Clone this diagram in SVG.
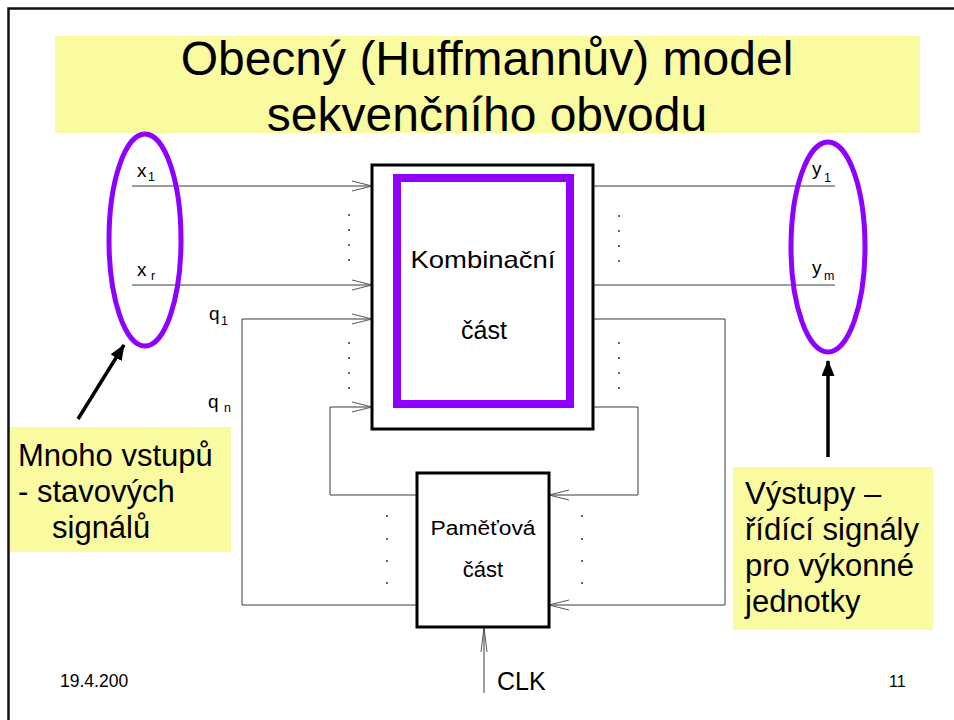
<svg xmlns="http://www.w3.org/2000/svg" width="954" height="720" viewBox="0 0 954 720">
<style>
text{font-family:"Liberation Sans",Arial,sans-serif;fill:#000}
.w{stroke:#3a3a3a;stroke-width:1;fill:none}
.box{fill:#fff;stroke:#000;stroke-width:3}
.yel{fill:#FAFAA0}
.ell{fill:none;stroke:#8F00FF;stroke-width:5}
.lbl{font-size:19px}
.sub{font-size:12.5px}
.dot{fill:#333}
.call{font-size:31px}
.big{stroke:#000;stroke-width:3.5;fill:none}
</style>
<defs>
<marker id="oa" markerUnits="userSpaceOnUse" markerWidth="24" markerHeight="14" refX="21" refY="6" orient="auto">
<path d="M1,1 L21,6 L1,11" fill="none" stroke="#555" stroke-width="1"/>
</marker>
<marker id="clk" markerUnits="userSpaceOnUse" markerWidth="28" markerHeight="10" refX="26" refY="4" orient="auto">
<path d="M1,1 L26,4 L1,7" fill="none" stroke="#555" stroke-width="1"/>
</marker>
<marker id="fa" markerUnits="userSpaceOnUse" markerWidth="18" markerHeight="14" refX="15" refY="6.5" orient="auto">
<path d="M0,0 L16,6.5 L0,13 z" fill="#000"/>
</marker>
<clipPath id="dc"><rect x="0" y="660" width="131" height="40"/></clipPath>
</defs>
<rect width="954" height="720" fill="#fff"/>
<path d="M8.5,720 V8.5 H954" fill="none" stroke="#111" stroke-width="2.5"/>

<g id="title">
<rect class="yel" x="55" y="36" width="865" height="97"/>
<text x="487" y="75" font-size="48" text-anchor="middle">Obecný (Huffmannův) model</text>
<text x="487" y="131" font-size="48" text-anchor="middle">sekvenčního obvodu</text>
</g>

<g id="connectors">
<path class="w" d="M132,186 H372" marker-end="url(#oa)"/>
<path class="w" d="M132,285 H372" marker-end="url(#oa)"/>
<path class="w" d="M417,605 H242 V319 H372" marker-end="url(#oa)"/>
<path class="w" d="M417,495 H330 V407 H372" marker-end="url(#oa)"/>
<path class="w" d="M593,186 H835"/>
<path class="w" d="M593,285 H835"/>
<path class="w" d="M593,319 H725 V605 H549" marker-end="url(#oa)"/>
<path class="w" d="M593,407 H638 V495 H549" marker-end="url(#oa)"/>
<path class="w" d="M484,693 V627" marker-end="url(#clk)"/>
<path class="big" d="M78,419 L124,345" marker-end="url(#fa)"/>
<path class="big" d="M828,457 V361" marker-end="url(#fa)"/>
</g>

<g id="dots">
<circle class="dot" cx="349" cy="215" r="1"/><circle class="dot" cx="349" cy="230" r="1"/><circle class="dot" cx="349" cy="245" r="1"/><circle class="dot" cx="349" cy="260" r="1"/>
<circle class="dot" cx="349" cy="343" r="1"/><circle class="dot" cx="349" cy="358" r="1"/><circle class="dot" cx="349" cy="373" r="1"/><circle class="dot" cx="349" cy="388" r="1"/>
<circle class="dot" cx="619" cy="216" r="1"/><circle class="dot" cx="619" cy="231" r="1"/><circle class="dot" cx="619" cy="246" r="1"/><circle class="dot" cx="619" cy="261" r="1"/>
<circle class="dot" cx="619" cy="343" r="1"/><circle class="dot" cx="619" cy="358" r="1"/><circle class="dot" cx="619" cy="373" r="1"/><circle class="dot" cx="619" cy="388" r="1"/>
<circle class="dot" cx="387" cy="516" r="1"/><circle class="dot" cx="387" cy="539" r="1"/><circle class="dot" cx="387" cy="561" r="1"/><circle class="dot" cx="387" cy="583" r="1"/>
<circle class="dot" cx="582" cy="516" r="1"/><circle class="dot" cx="582" cy="539" r="1"/><circle class="dot" cx="582" cy="561" r="1"/><circle class="dot" cx="582" cy="583" r="1"/>
</g>

<g id="comb">
<rect class="box" x="372" y="165" width="221" height="264"/>
<rect x="397" y="178" width="173" height="226" fill="none" stroke="#8F00FF" stroke-width="8"/>
<text x="483" y="268" font-size="24" text-anchor="middle" textLength="145" lengthAdjust="spacingAndGlyphs">Kombinační</text>
<text x="484" y="339" font-size="25" text-anchor="middle">část</text>
</g>

<g id="mem">
<rect class="box" x="417" y="473" width="132" height="154"/>
<text x="483" y="535" font-size="20" text-anchor="middle" textLength="105" lengthAdjust="spacingAndGlyphs">Paměťová</text>
<text x="483" y="577" font-size="22" text-anchor="middle">část</text>
</g>

<g id="inputs">
<ellipse class="ell" cx="145" cy="240" rx="36" ry="106"/>
<text class="lbl" x="137" y="177">x</text><text class="sub" x="148" y="181">1</text>
<text class="lbl" x="137" y="276">x</text><text class="sub" x="151" y="280">r</text>
<text class="lbl" x="209" y="320">q</text><text class="sub" x="221" y="325">1</text>
<text class="lbl" x="208" y="408">q</text><text class="sub" x="224" y="412">n</text>
</g>

<g id="outputs">
<ellipse class="ell" cx="828" cy="247" rx="37" ry="105"/>
<text class="lbl" x="812" y="175">y</text><text class="sub" x="824" y="182">1</text>
<text class="lbl" x="812" y="274">y</text><text class="sub" x="824" y="280">m</text>
</g>

<g id="callout-left">
<rect class="yel" x="10" y="427" width="221" height="125"/>
<text class="call" x="18" y="466">Mnoho vstupů</text>
<text class="call" x="18" y="502">- stavových</text>
<text class="call" x="52" y="538">signálů</text>
</g>

<g id="callout-right">
<rect class="yel" x="733" y="467" width="200" height="163"/>
<text class="call" x="745" y="504">Výstupy –</text>
<text class="call" x="745" y="540">řídící signály</text>
<text class="call" x="745" y="576">pro výkonné</text>
<text class="call" x="745" y="612">jednotky</text>
</g>

<g id="clk-label">
<text x="497" y="690" font-size="25">CLK</text>
</g>

<g id="footer">
<text x="60" y="687" font-size="17.5" clip-path="url(#dc)">19.4.200</text>
<text x="889" y="687" font-size="16">11</text>
</g>
</svg>
